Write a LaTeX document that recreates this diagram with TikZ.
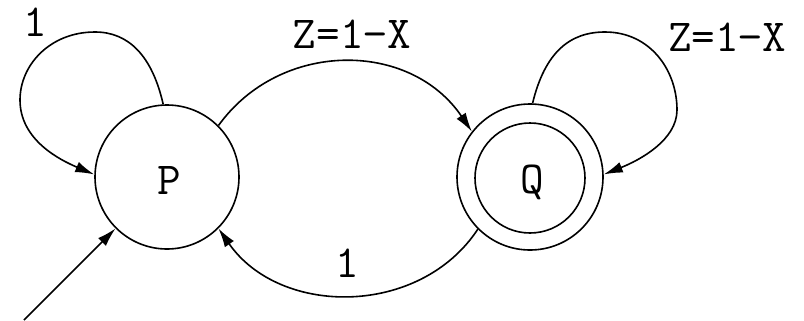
\documentclass[tikz,border=0pt]{standalone}
\usetikzlibrary{arrows.meta}
\begin{document}
\begin{tikzpicture}[x=1bp,y=-1bp,
  every path/.style={line width=1.6bp},
  state/.style={draw,circle,inner sep=0pt,line width=1.6bp},
  lbl/.style={inner sep=0pt,font=\ttfamily\fontsize{46}{46}\selectfont},
  arr/.style={-{Latex[length=19bp,width=11bp]}}]
\useasboundingbox (0,0) rectangle (804,320);
\node[state,minimum size=144bp] (P) at (167,177) {};
\node[lbl] (Pl) at (169,180) {P};
\node[state,minimum size=146bp] (Q) at (530,177) {};
\node[state,minimum size=110bp] (Qi) at (530,178) {};
\node[lbl] (Ql) at (532,182) {Q};
\coordinate (S) at (24,320);
% initial arrow
\draw[arr] (S) -- (P.225);
% P self loop
\draw[arr] (P.93) .. controls (152,55) and (128,32) .. (95,32)
  .. controls (50,32) and (20,65) .. (20,100)
  .. controls (20,140) and (60,160) .. (P.178);
\node[lbl] (l1) at (35,22) {1};
% P -> Q
\draw[arr] (P.45) .. controls (280,40) and (410,40) .. (Q.142);
\node[lbl] (l2) at (352,34) {Z=1\textminus X};
% Q -> P
\draw[arr] (Q.225) .. controls (420,317) and (280,317) .. (P.315);
\node[lbl] (l3) at (347,263) {1};
% Q self loop
\draw[arr] (Q.88) .. controls (545,52) and (570,32) .. (605,32)
  .. controls (650,32) and (677,70) .. (677,110)
  .. controls (677,140) and (640,160) .. (Q.2);
\node[lbl] (l4) at (727,37) {Z=1\textminus X};
\end{tikzpicture}
\end{document}
